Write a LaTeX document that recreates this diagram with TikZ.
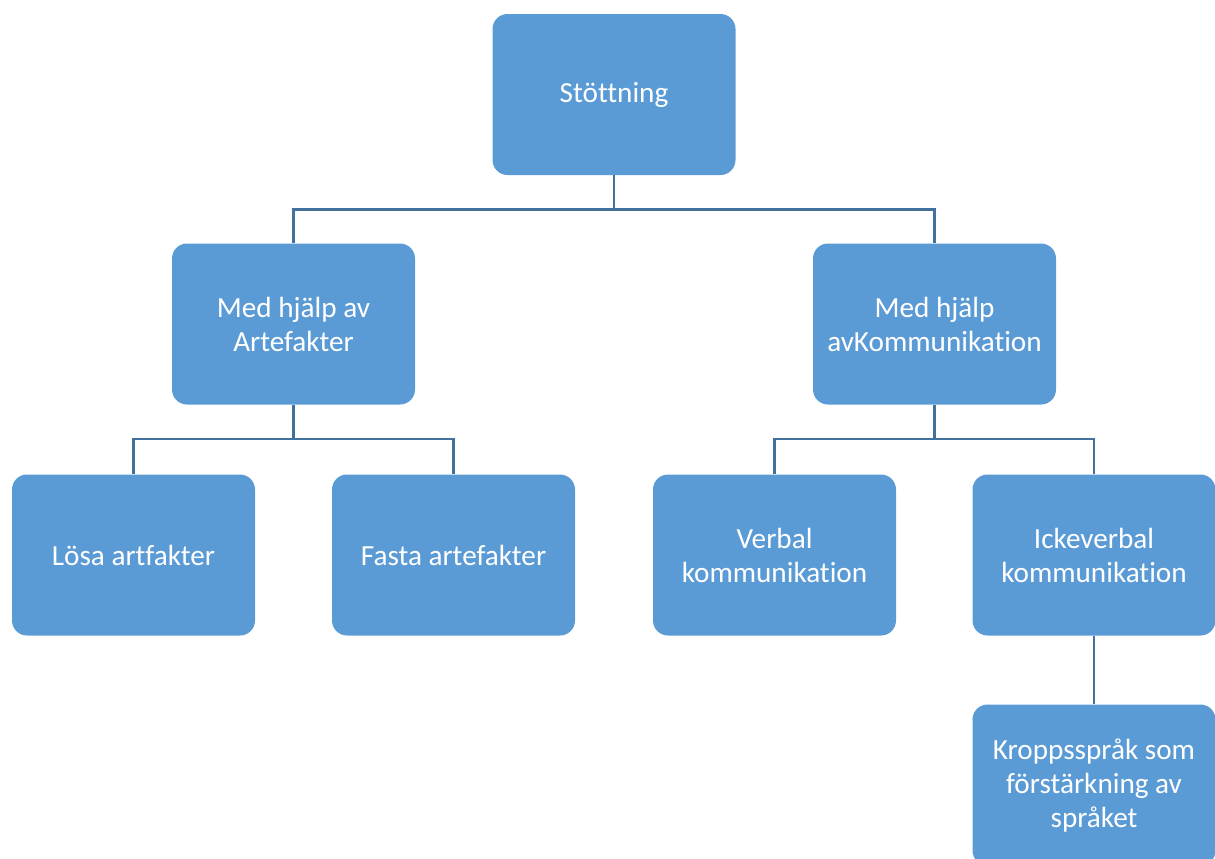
\documentclass[tikz,border=0pt]{standalone}
\usepackage{fontspec}
\setmainfont{Carlito}[Ligatures=NoCommon]
\definecolor{boxblue}{HTML}{5B9BD5}
\definecolor{lineblue}{HTML}{41719C}

\begin{document}
\begin{tikzpicture}[x=0.5pt,y=-0.5pt,
  box/.style={fill=boxblue, rounded corners=7.5pt, minimum width=121.5pt,
    minimum height=80.5pt, inner sep=0pt, text=white, align=center,
    font=\fontsize{14.6}{17}\selectfont},
  link/.style={draw=lineblue, line width=1.4pt}]
  \useasboundingbox (0,0) rectangle (1215,858);
  \clip (0,0) rectangle (1215,858);
  % boxes
  \node[box] (root) at (614,94.5) {Stöttning};
  \node[box] (art) at (293.5,324) {Med hjälp av\\Artefakter};
  \node[box] (kom) at (934.5,324) {Med hjälp\\avKommunikation};
  \node[box] (losa) at (133.5,555) {Lösa artfakter};
  \node[box] (fasta) at (453.5,555) {Fasta artefakter};
  \node[box] (verbal) at (774.5,555) {Verbal\\kommunikation};
  \node[box] (icke) at (1094,555) {Ickeverbal\\kommunikation};
  \node[box] (kropp) at (1094,785) {Kroppsspråk som\\förstärkning av\\språket};
  % links
  \draw[link] (root.south) -- ++(0,34) -| (art.north);
  \draw[link] (root.south) -- ++(0,34) -| (kom.north);
  \draw[link] (art.south) -- ++(0,34) -| (losa.north);
  \draw[link] (art.south) -- ++(0,34) -| (fasta.north);
  \draw[link] (kom.south) -- ++(0,34) -| (verbal.north);
  \draw[link] (kom.south) -- ++(0,34) -| (icke.north);
  \draw[link] (icke.south) -- (kropp.north);
\end{tikzpicture}
\end{document}
